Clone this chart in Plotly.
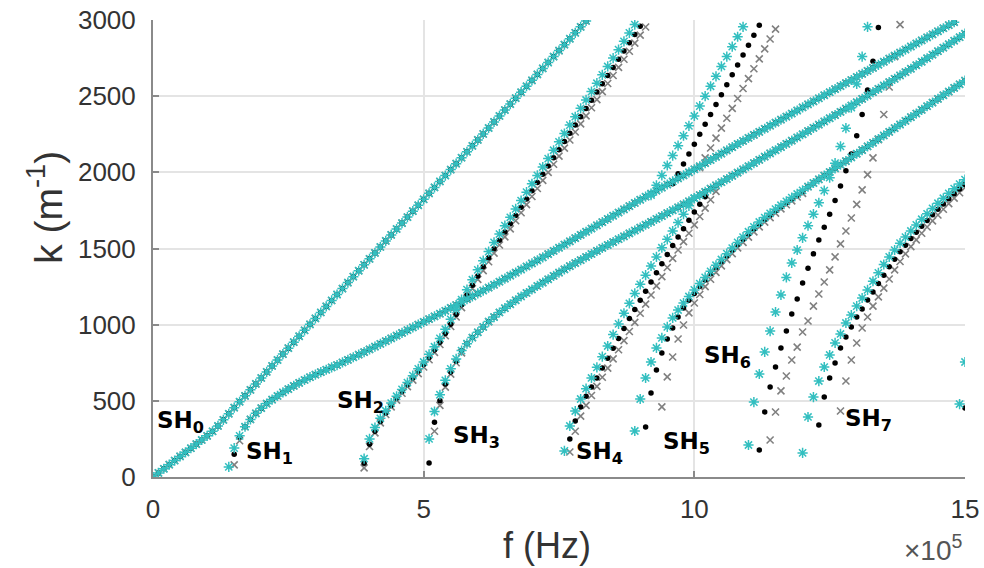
import plotly.graph_objects as go

# ---------------- data (f in units of 1e5 Hz, k in 1/m) ----------------
FREQ = [0.0, 0.1, 0.2, 0.3, 0.4, 0.5, 0.6, 0.7, 0.8, 0.9,
        1.0, 1.1, 1.2, 1.3, 1.4, 1.5, 1.6, 1.7, 1.8, 1.9,
        2.0, 2.1, 2.2, 2.3, 2.4, 2.5, 2.6, 2.7, 2.8, 2.9,
        3.0, 3.1, 3.2, 3.3, 3.4, 3.5, 3.6, 3.7, 3.8, 3.9,
        4.0, 4.1, 4.2, 4.3, 4.4, 4.5, 4.6, 4.7, 4.8, 4.9,
        5.0, 5.1, 5.2, 5.3, 5.4, 5.5, 5.6, 5.7, 5.8, 5.9,
        6.0, 6.1, 6.2, 6.3, 6.4, 6.5, 6.6, 6.7, 6.8, 6.9,
        7.0, 7.1, 7.2, 7.3, 7.4, 7.5, 7.6, 7.7, 7.8, 7.9,
        8.0, 8.1, 8.2, 8.3, 8.4, 8.5, 8.6, 8.7, 8.8, 8.9,
        9.0, 9.1, 9.2, 9.3, 9.4, 9.5, 9.6, 9.7, 9.8, 9.9,
        10.0, 10.1, 10.2, 10.3, 10.4, 10.5, 10.6, 10.7, 10.8, 10.9,
        11.0, 11.1, 11.2, 11.3, 11.4, 11.5, 11.6, 11.7, 11.8, 11.9,
        12.0, 12.1, 12.2, 12.3, 12.4, 12.5, 12.6, 12.7, 12.8, 12.9,
        13.0, 13.1, 13.2, 13.3, 13.4, 13.5, 13.6, 13.7, 13.8, 13.9,
        14.0, 14.1, 14.2, 14.3, 14.4, 14.5, 14.6, 14.7, 14.8, 14.9,
        15.0]

# SH0 branch (starts at f = 0.0)
SH0_START = 0
K_SH0 = [0, 27, 54, 81, 108, 135, 162, 189, 216, 243,
         270, 300, 335, 375, 415, 455, 494, 533, 572, 611,
         650, 690, 729, 768, 807, 846, 885, 924, 963, 1002,
         1041, 1080, 1120, 1159, 1198, 1237, 1276, 1315, 1354, 1393,
         1432, 1471, 1510, 1550, 1589, 1628, 1667, 1706, 1745, 1784,
         1823, 1862, 1901, 1940, 1979, 2018, 2057, 2096, 2135, 2174,
         2213, 2252, 2291, 2331, 2370, 2409, 2448, 2487, 2526, 2565,
         2604, 2643, 2682, 2721, 2760, 2799, 2838, 2877, 2916, 2955,
         2994]

# SH1 branch (starts at f = 1.4)
SH1_START = 14
K_SH1_CYAN = [66, 190, 270, 330, 378, 418,
              452, 482, 508, 532, 555, 577, 598, 618, 637, 655,
              672, 688, 704, 720, 735, 752, 769, 786, 803, 820,
              838, 856, 874, 892, 910, 928, 946, 964, 982, 1000,
              1018, 1036, 1054, 1072, 1091, 1110, 1129, 1148, 1167, 1186,
              1205, 1224, 1243, 1262, 1282, 1302, 1322, 1342, 1362, 1382,
              1402, 1422, 1442, 1463, 1484, 1505, 1526, 1547, 1568, 1589,
              1610, 1631, 1652, 1673, 1694, 1715, 1736, 1757, 1778, 1799,
              1820, 1840, 1860, 1880, 1900, 1920, 1940, 1960, 1980, 2000,
              2020, 2040, 2060, 2081, 2102, 2123, 2144, 2165, 2186, 2206,
              2226, 2246, 2266, 2286, 2306, 2326, 2346, 2366, 2386, 2406,
              2426, 2446, 2466, 2486, 2506, 2526, 2546, 2566, 2586, 2606,
              2626, 2646, 2666, 2686, 2706, 2726, 2746, 2766, 2786, 2806,
              2826, 2846, 2866, 2886, 2906, 2926, 2946, 2966, 2986]
K_SH1_BLACK_HEAD = [None, 150, 262]
K_SH1_GRAY_HEAD = [None, 80, 238]

# SH2 branch (starts at f = 3.9)
SH2_START = 39
K_SH2_CYAN = [120,
              250, 325, 385, 435, 485, 530, 575, 620, 665, 710,
              755, 805, 855, 910, 970, 1035, 1100, 1165, 1230, 1295,
              1360, 1420, 1480, 1540, 1595, 1650, 1705, 1760, 1815, 1870,
              1925, 1980, 2035, 2090, 2145, 2200, 2255, 2310, 2365, 2420,
              2475, 2530, 2585, 2640, 2695, 2750, 2805, 2860, 2915, 2970,
              None, None]
K_SH2_BLACK = [90,
               215, 300, 365, 420, 470, 517, 562, 606, 650, 694,
               738, 785, 833, 885, 942, 1003, 1066, 1130, 1194, 1258,
               1320, 1380, 1440, 1498, 1554, 1609, 1663, 1717, 1771, 1825,
               1879, 1933, 1987, 2041, 2095, 2149, 2203, 2257, 2311, 2365,
               2419, 2473, 2527, 2581, 2635, 2689, 2743, 2797, 2851, 2905,
               2959, None]
K_SH2_GRAY = [60,
              200, 290, 355, 410, 460, 505, 550, 593, 636, 679,
              722, 770, 818, 870, 927, 988, 1050, 1112, 1174, 1236,
              1297, 1355, 1413, 1470, 1523, 1576, 1629, 1682, 1735, 1788,
              1841, 1894, 1947, 2000, 2053, 2106, 2159, 2212, 2265, 2318,
              2371, 2424, 2477, 2530, 2583, 2636, 2689, 2742, 2795, 2848,
              2901, 2954]

# SH3 branch (starts at f = 5.1)
SH3_START = 51
K_SH3_CYAN = [250, 430, 540, 635, 710, 775, 830, 875, 915,
              950, 985, 1020, 1050, 1080, 1108, 1134, 1160, 1185, 1208,
              1231, 1254, 1276, 1298, 1320, 1342, 1363, 1384, 1404, 1424,
              1444, 1464, 1484, 1504, 1523, 1542, 1561, 1580, 1599, 1618,
              1637, 1656, 1675, 1694, 1713, 1732, 1751, 1770, 1790, 1810,
              1830, 1851, 1872, 1893, 1914, 1935, 1956, 1977, 1998, 2019,
              2040, 2061, 2082, 2103, 2124, 2145, 2166, 2187, 2208, 2229,
              2250, 2271, 2292, 2313, 2334, 2355, 2376, 2397, 2418, 2439,
              2460, 2482, 2504, 2526, 2548, 2570, 2592, 2614, 2636, 2658,
              2680, 2703, 2726, 2749, 2772, 2795, 2818, 2841, 2864, 2887,
              2910]
K_SH3_BLACK_HEAD = [92, 360, 500, 610, 690, 760]
K_SH3_GRAY_HEAD = [None, 300, 470, 590, 675, 750, 815]

# SH4 branch (starts at f = 7.6)
SH4_START = 76
K_SH4_CYAN = [171, 335, 433, 512,
              580, 650, 720, 790, 860, 935, 1005, 1075, 1140, 1205,
              1265, 1325, 1385, 1445, 1505, 1560, 1615, 1670, 1725, 1780,
              1830, None, None, None, None]
K_SH4_BLACK = [None, 250, 368, 460,
               530, 590, 650, 715, 780, 845, 910, 975, 1040, 1100,
               1160, 1220, 1280, 1340, 1400, 1460, 1520, 1575, 1630, 1685,
               1740, 1790, 1840, None, None]
K_SH4_GRAY = [None, 164, 300, 400,
              470, 535, 595, 655, 715, 775, 835, 895, 955, 1015,
              1075, 1135, 1195, 1255, 1315, 1375, 1435, 1490, 1545, 1600,
              1655, 1710, 1765, 1820, 1875]

# steep branch leaving the SH1 curve towards the top (starts at f = 9.2)
UP_START = 92
K_UP_CYAN = [1850, 1915, 1980, 2045, 2110, 2175, 2240, 2305,
             2370, 2435, 2500, 2565, 2630, 2695, 2760, 2825, 2890, 2955,
             None, None, None, None, None, None]
K_UP_BLACK = [None, None, None, None, 1925, 1990, 2055, 2120,
              2185, 2250, 2315, 2380, 2445, 2510, 2575, 2640, 2705, 2770,
              2835, 2900, 2965, None, None, None]
K_UP_GRAY = [None, None, None, None, None, None, None, None,
             None, 2030, 2095, 2160, 2225, 2290, 2355, 2420, 2485, 2550,
             2615, 2680, 2745, 2810, 2875, 2940]

# SH5 branch (starts at f = 8.9)
SH5_START = 89
K_SH5_CYAN = [302,
              512, 650, 755, 847, 913, 985, 1044, 1096, 1142, 1185,
              1228, 1270, 1310, 1350, 1390, 1428, 1466, 1503, 1540, 1575,
              1610, 1642, 1674, 1703, 1731, 1758, 1784, 1809, 1834, 1858,
              1882, 1906, 1930, 1954, 1978, 2002, 2026, 2050, 2074, 2098,
              2122, 2146, 2170, 2194, 2218, 2242, 2266, 2290, 2314, 2338,
              2362, 2386, 2410, 2434, 2458, 2482, 2506, 2530, 2554, 2578,
              2602]
K_SH5_BLACK_HEAD = [None,
                    None, 328, 552, 702, 814, 906, 978, 1050, 1110, 1160,
                    1205, 1250, 1293, 1335, 1376, 1415, 1453, 1490, 1526, 1561,
                    1595, 1628, 1660, 1690, 1719, 1747, 1774, 1800, 1825, 1850,
                    1874]
K_SH5_GRAY_HEAD = [None,
                   None, None, None, None, 460, 657, 788, 906, 998, 1077,
                   1142, 1198, 1250, 1298, 1343, 1386, 1427, 1466, 1504, 1540,
                   1575, 1609, 1642, 1673, 1703, 1732, 1760, 1787, 1813, 1838,
                   1862]

# SH6 branch (starts at f = 11.0)
SH6_START = 110
K_SH6_CYAN = [210, 492, 676, 821, 958, 1083, 1195, 1310, 1405, 1490,
              1570, 1650, 1725, 1800, 1880, 1965, 2060, 2170, 2290, 2425,
              2580, 2760, 2955, None, None, None, None, None, None]
K_SH6_BLACK = [None, None, 177, 427, 591, 722, 847, 958, 1070, 1169,
               1274, 1370, 1465, 1555, 1640, 1725, 1815, 1910, 2010, 2120,
               2240, 2380, 2540, 2730, 2950, None, None, None, None]
K_SH6_GRAY = [None, None, None, None, 243, 427, 565, 663, 768, 853,
              952, 1024, 1122, 1201, 1280, 1360, 1445, 1530, 1615, 1700,
              1790, 1885, 1985, 2095, 2215, 2380, 2560, 2760, 2970]

# SH7 branch (starts at f = 12.0)
SH7_START = 120
K_SH7_CYAN = [158, 394, 525, 630, 722, 801, 880, 939, 1011, 1063,
              1122, 1175, 1228, 1285, 1340, 1395, 1445, 1490, 1535, 1575,
              1615, 1655, 1692, 1728, 1763, 1797, 1830, 1862, 1893, 1923,
              1952]
K_SH7_BLACK = [None, None, None, 341, 525, 650, 748, 847, 919, 985,
               1050, 1103, 1162, 1215, 1270, 1325, 1380, 1430, 1478, 1522,
               1565, 1606, 1646, 1684, 1721, 1757, 1792, 1826, 1859, 1890,
               1920]
K_SH7_GRAY = [None, None, None, None, None, None, None, 433, 630, 768,
              880, 978, 1050, 1122, 1182, 1240, 1300, 1360, 1415, 1465,
              1512, 1557, 1600, 1641, 1681, 1720, 1758, 1795, 1831, 1866,
              1900]

# next mode just appearing at the right edge (starts at f = 14.9)
SH8_START = 149
K_SH8_CYAN = [479, 755]
K_SH8_BLACK = [None, 453]

MODE_LABELS = ["SH<sub>0</sub>", "SH<sub>1</sub>", "SH<sub>2</sub>", "SH<sub>3</sub>",
               "SH<sub>4</sub>", "SH<sub>5</sub>", "SH<sub>6</sub>", "SH<sub>7</sub>"]
LABEL_F = [0.50, 2.16, 3.84, 5.97, 8.24, 9.85, 10.62, 13.21]
LABEL_K = [360, 158, 492, 263, 158, 223, 788, 374]

X_TICKS = [0, 5, 10, 15]
Y_TICKS = [0, 500, 1000, 1500, 2000, 2500, 3000]

# ---------------- assemble series ----------------
cyan_sets = [
    (SH0_START, K_SH0),
    (SH1_START, K_SH1_CYAN),
    (SH2_START, K_SH2_CYAN),
    (SH3_START, K_SH3_CYAN),
    (SH4_START, K_SH4_CYAN),
    (UP_START, K_UP_CYAN),
    (SH5_START, K_SH5_CYAN),
    (SH6_START, K_SH6_CYAN),
    (SH7_START, K_SH7_CYAN),
    (SH8_START, K_SH8_CYAN),
]
black_sets = [
    (SH0_START, K_SH0),
    (SH1_START, K_SH1_BLACK_HEAD + K_SH1_CYAN[len(K_SH1_BLACK_HEAD):]),
    (SH2_START, K_SH2_BLACK),
    (SH3_START, K_SH3_BLACK_HEAD + K_SH3_CYAN[len(K_SH3_BLACK_HEAD):]),
    (SH4_START, K_SH4_BLACK),
    (UP_START, K_UP_BLACK),
    (SH5_START, K_SH5_BLACK_HEAD + K_SH5_CYAN[len(K_SH5_BLACK_HEAD):]),
    (SH6_START, K_SH6_BLACK),
    (SH7_START, K_SH7_BLACK),
    (SH8_START, K_SH8_BLACK),
]
gray_sets = [
    (SH0_START, K_SH0),
    (SH1_START, K_SH1_GRAY_HEAD + K_SH1_CYAN[len(K_SH1_GRAY_HEAD):]),
    (SH2_START, K_SH2_GRAY),
    (SH3_START, K_SH3_GRAY_HEAD + K_SH3_CYAN[len(K_SH3_GRAY_HEAD):]),
    (SH4_START, K_SH4_GRAY),
    (UP_START, K_UP_GRAY),
    (SH5_START, K_SH5_GRAY_HEAD + K_SH5_CYAN[len(K_SH5_GRAY_HEAD):]),
    (SH6_START, K_SH6_GRAY),
    (SH7_START, K_SH7_GRAY),
]


def collect(sets):
    xs, ys = [], []
    for start, ks in sets:
        xs += FREQ[start:start + len(ks)] + [None]
        ys += list(ks) + [None]
    return xs, ys


gx, gy = collect(gray_sets)
bx, by = collect(black_sets)
cx, cy = collect(cyan_sets)

CYAN = "#33bfc0"
GRAY = "#808080"

fig = go.Figure()
fig.add_trace(go.Scatter(
    x=gx, y=gy, mode="markers", showlegend=False, hoverinfo="skip",
    marker=dict(symbol="x-thin-open", size=7, color=GRAY, line=dict(color=GRAY, width=1.6)),
))
fig.add_trace(go.Scatter(
    x=bx, y=by, mode="markers", showlegend=False, hoverinfo="skip",
    marker=dict(symbol="circle", size=5.5, color="#000000", line=dict(width=0)),
))
fig.add_trace(go.Scatter(
    x=cx, y=cy, mode="markers", showlegend=False, hoverinfo="skip",
    marker=dict(symbol="asterisk-open", size=8.5, color=CYAN, line=dict(color=CYAN, width=1.5)),
))

annotations = []
for lab, fx, ky in zip(MODE_LABELS, LABEL_F, LABEL_K):
    annotations.append(dict(
        x=fx, y=ky, xref="x", yref="y", text="<b>" + lab + "</b>",
        showarrow=False, xanchor="center", yanchor="middle",
        font=dict(family="DejaVu Sans", size=23, color="#000000"),
    ))

annotations.append(dict(
    x=0.485, y=-0.149, xref="paper", yref="paper", text="f (Hz)",
    showarrow=False, xanchor="center", yanchor="middle",
    font=dict(family="Liberation Sans", size=36, color="#333333"),
))
annotations.append(dict(
    x=-0.133, y=0.589, xref="paper", yref="paper", text="k (m<sup>-1</sup>)",
    showarrow=False, xanchor="center", yanchor="middle", textangle=-90,
    font=dict(family="Liberation Sans", size=39, color="#333333"),
))
annotations.append(dict(
    x=1.0, y=-0.155, xref="paper", yref="paper", text="\u00d710<sup>5</sup>",
    showarrow=False, xanchor="right", yanchor="middle",
    font=dict(family="Liberation Sans", size=28, color="#555555"),
))

fig.update_layout(
    width=984, height=568,
    margin=dict(l=153, r=19, t=20, b=91),
    paper_bgcolor="white", plot_bgcolor="white",
    annotations=annotations,
    xaxis=dict(
        range=[0, 15], tickvals=X_TICKS, ticktext=[str(v) for v in X_TICKS],
        showgrid=True, gridcolor="#e4e4e4", gridwidth=1.5,
        showline=True, linecolor="#8a8a8a", linewidth=2, mirror=False,
        ticks="inside", ticklen=6, tickcolor="#8a8a8a", tickwidth=1.5,
        tickfont=dict(family="Liberation Sans", size=26, color="#333333"),
        ticklabelstandoff=8, zeroline=False, automargin=False,
    ),
    yaxis=dict(
        range=[0, 3000], tickvals=Y_TICKS, ticktext=[str(v) for v in Y_TICKS],
        showgrid=True, gridcolor="#e4e4e4", gridwidth=1.5,
        showline=True, linecolor="#8a8a8a", linewidth=2, mirror=False,
        ticks="inside", ticklen=6, tickcolor="#8a8a8a", tickwidth=1.5,
        tickfont=dict(family="Liberation Sans", size=26, color="#333333"),
        ticklabelstandoff=10, zeroline=False, automargin=False,
    ),
)

fig.write_html(
    "out.html",
    config={"displayModeBar": False},
    post_script="document.body.style.margin='0px'; document.body.style.overflow='hidden';",
)
